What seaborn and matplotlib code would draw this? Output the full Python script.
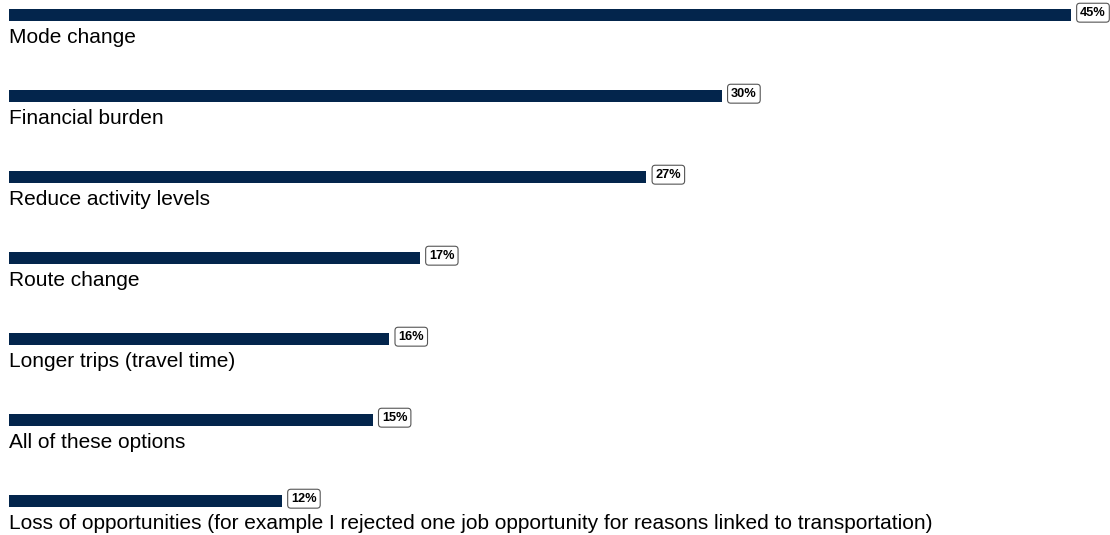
import matplotlib
matplotlib.use("Agg")
import matplotlib.pyplot as plt
import seaborn as sns
import pandas as pd

# Impacts reported by respondents (share of respondents, %)
categories = [
    "Mode change",
    "Financial burden",
    "Reduce activity levels",
    "Route change",
    "Longer trips (travel time)",
    "All of these options",
    "Loss of opportunities (for example I rejected one job opportunity for reasons linked to transportation)",
]
values = [45.0, 30.2, 27.0, 17.4, 16.1, 15.4, 11.55]
value_labels = [f"{round(v):.0f}%" for v in values]

sns.set_theme(style="white")
plt.rcParams["font.family"] = ["Liberation Sans", "DejaVu Sans"]

df = pd.DataFrame({"category": categories, "value": values})

W, H, DPI = 1110, 535, 100
fig = plt.figure(figsize=(W / DPI, H / DPI), dpi=DPI)
ax = fig.add_axes([0, 0, 1, 1])

row_px = 81.0
bar_px = 12.0
sns.barplot(data=df, x="value", y="category", orient="h", color="#03254c",
            width=bar_px / row_px, ax=ax, saturation=1, linewidth=0)

# axis geometry: value 0 sits 9.3 px from the left, 45 at 1070.7 px
px_per_unit = (1070.7 - 9.3) / 45.0
ax.set_xlim(-9.3 / px_per_unit, (W - 9.3) / px_per_unit)
top_center = 15.3
ax.set_ylim((H - top_center) / row_px, -top_center / row_px)
ax.axis("off")

for i, (cat, v, lab) in enumerate(zip(categories, values, value_labels)):
    # category name under its bar
    ax.annotate(cat, xy=(0, i), xytext=(0, -27.8 * 72 / DPI),
                textcoords="offset points", ha="left", va="baseline",
                fontsize=15.0, color="#000000")
    # boxed value label at the bar end
    ax.annotate(lab, xy=(v, i), xytext=(9.4 * 72 / DPI, 2.6 * 72 / DPI),
                textcoords="offset points", ha="left", va="center",
                fontsize=9.2, fontweight="bold", color="#000000",
                bbox=dict(boxstyle="round,pad=0.27,rounding_size=0.25",
                          fc="white", ec="#555555", lw=0.8))

fig.savefig("out.png", dpi=DPI)
